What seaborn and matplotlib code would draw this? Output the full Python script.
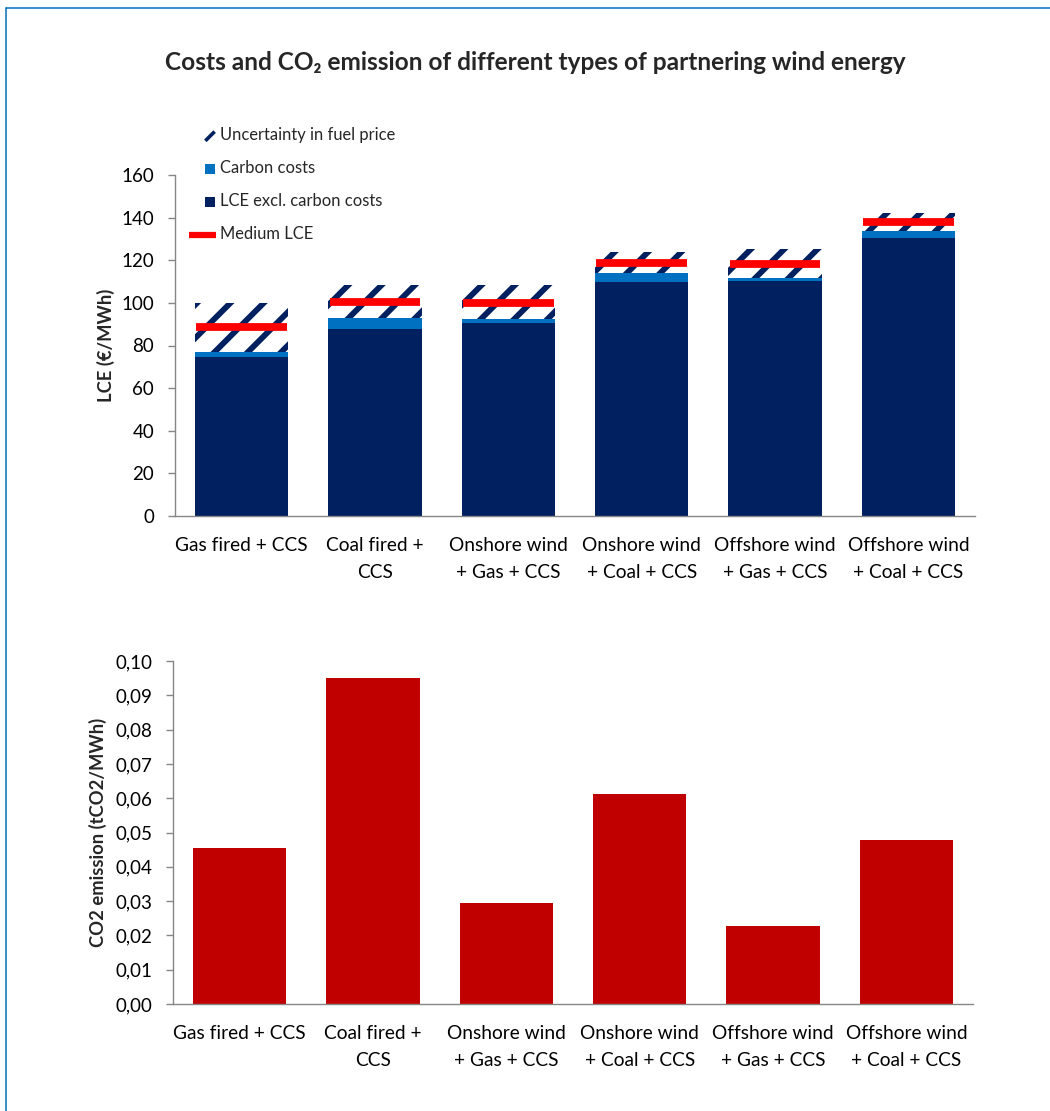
import numpy as np
import pandas as pd
import matplotlib
matplotlib.use("Agg")
import matplotlib.pyplot as plt
import seaborn as sns
from matplotlib.lines import Line2D
from matplotlib.patches import Rectangle, Patch
from matplotlib.legend_handler import HandlerBase
from matplotlib.ticker import FuncFormatter, FixedLocator

# ---------------- data ----------------
categories = ["Gas fired + CCS", "Coal fired +\nCCS", "Onshore wind\n+ Gas + CCS",
              "Onshore wind\n+ Coal + CCS", "Offshore wind\n+ Gas + CCS", "Offshore wind\n+ Coal + CCS"]
lce_excl_carbon = [74.5, 87.6, 90.7, 110.0, 110.3, 130.6]
carbon_costs = [2.6, 5.5, 1.7, 3.9, 1.2, 3.3]
fuel_uncertainty = [22.7, 15.3, 16.0, 10.1, 13.6, 8.1]
medium_lce = [88.8, 100.6, 100.0, 118.9, 118.4, 138.1]
co2_emission = [0.0455, 0.0951, 0.0294, 0.0612, 0.0228, 0.0477]

lce_yticks = [0, 20, 40, 60, 80, 100, 120, 140, 160]
co2_yticks = [0.00, 0.01, 0.02, 0.03, 0.04, 0.05, 0.06, 0.07, 0.08, 0.09, 0.10]

NAVY = "#002060"
LIGHT = "#0070C0"
RED = "#FF0000"
DARKRED = "#C00000"
AXIS = "#868686"

sns.set_style("white")
plt.rcParams["font.family"] = ["Lato", "DejaVu Sans"]
plt.rcParams["hatch.linewidth"] = 4.2

df = pd.DataFrame({
    "cat": categories,
    "lce": lce_excl_carbon,
    "carbon": carbon_costs,
    "unc": fuel_uncertainty,
    "medium": medium_lce,
    "co2": co2_emission,
})
df["carbon_top"] = df["lce"] + df["carbon"]
df["total"] = df["carbon_top"] + df["unc"]

fig = plt.figure(figsize=(10.5, 11.11), dpi=100)
ax1 = fig.add_axes([175 / 1050, 1 - 516 / 1111, 800 / 1050, 341 / 1111])
ax2 = fig.add_axes([173 / 1050, 1 - 1004 / 1111, 800 / 1050, 343 / 1111])

# ---- top chart: stacked via overlay ----
sns.barplot(data=df, x="cat", y="total", ax=ax1, color="white", saturation=1,
            width=0.7, edgecolor=NAVY, linewidth=0, hatch="/", errorbar=None)
sns.barplot(data=df, x="cat", y="carbon_top", ax=ax1, color=LIGHT, saturation=1,
            width=0.7, linewidth=0, errorbar=None)
sns.barplot(data=df, x="cat", y="lce", ax=ax1, color=NAVY, saturation=1,
            width=0.7, linewidth=0, errorbar=None)
xpos = np.arange(len(categories))
ax1.hlines(df["medium"], xpos - 0.34, xpos + 0.34, color=RED, lw=5.6, zorder=5)

# ---- bottom chart ----
sns.barplot(data=df, x="cat", y="co2", ax=ax2, color=DARKRED, saturation=1,
            width=0.7, linewidth=0, errorbar=None)

for ax, yt in ((ax1, lce_yticks), (ax2, co2_yticks)):
    ax.set_xlim(-0.5, len(categories) - 0.5)
    ax.set_ylim(yt[0], yt[-1])
    ax.set_yticks(yt)
    ax.set_xlabel("")
    for s in ("top", "right"):
        ax.spines[s].set_visible(False)
    for s in ("left", "bottom"):
        ax.spines[s].set_color(AXIS)
        ax.spines[s].set_linewidth(1.0)
    ax.xaxis.set_minor_locator(FixedLocator(np.arange(-0.5, len(categories), 1.0)))
    ax.tick_params(axis="x", which="major", length=0, pad=15, labelsize=13.8, colors="black")
    ax.tick_params(axis="x", which="minor", length=5, width=1, color=AXIS, direction="out")
    ax.tick_params(axis="y", which="major", length=5, width=1, color=AXIS, direction="out",
                   labelsize=13.5, labelcolor="black", pad=10, left=True)
    for lab in ax.get_xticklabels():
        lab.set_linespacing(1.7)
        lab.set_verticalalignment("top")

ax2.yaxis.set_major_formatter(FuncFormatter(lambda v, p: f"{v:.2f}".replace(".", ",")))

ax1.set_ylabel("LCE (€/MWh)", fontsize=13.2, fontweight="bold")
ax1.yaxis.set_label_coords(-0.075, 0.5)
ax2.set_ylabel("CO2 emission (tCO2/MWh)", fontsize=13.2, fontweight="bold")
ax2.yaxis.set_label_coords(-0.082, 0.5)

# ---- title ----
fig.text(535 / 1050, 1 - 62 / 1111, "Costs and CO₂ emission of different types of partnering wind energy",
         ha="center", va="center", fontsize=17.6, fontweight="bold",
         family=["Lato", "DejaVu Sans"])


# ---- legend ----
class SquareHandler(HandlerBase):
    def create_artists(self, legend, orig_handle, xdescent, ydescent, width, height, fontsize, trans):
        s = 0.56 * fontsize
        r = Rectangle((width - s - 0.1 * fontsize, height / 2 - s / 2 - 0.12 * fontsize), s, s,
                      facecolor=orig_handle.get_facecolor(), edgecolor="none", transform=trans)
        return [r]


class SlashHandler(HandlerBase):
    def create_artists(self, legend, orig_handle, xdescent, ydescent, width, height, fontsize, trans):
        s = 0.56 * fontsize
        x1 = width - 0.1 * fontsize
        y0 = height / 2 - s / 2 - 0.12 * fontsize
        l = Line2D([x1 - s, x1], [y0, y0 + s], color=NAVY, lw=2.6, solid_capstyle="butt",
                   transform=trans)
        return [l]


class BarLineHandler(HandlerBase):
    def create_artists(self, legend, orig_handle, xdescent, ydescent, width, height, fontsize, trans):
        y = height / 2 - 0.12 * fontsize
        l = Line2D([-xdescent, width], [y, y], color=RED, lw=4.5, solid_capstyle="butt",
                   transform=trans)
        return [l]


h_unc = Patch(facecolor=NAVY, label="Uncertainty in fuel price")
h_car = Patch(facecolor=LIGHT, label="Carbon costs")
h_lce = Patch(facecolor=NAVY, label="LCE excl. carbon costs")
h_med = Line2D([], [], color=RED, lw=4.5, label="Medium LCE")
fig.legend(handles=[h_unc, h_car, h_lce, h_med],
           handler_map={h_unc: SlashHandler(), h_car: SquareHandler(), h_lce: SquareHandler(),
                        h_med: BarLineHandler()},
           loc="upper left", bbox_to_anchor=(189 / 1050, 1 - 127 / 1111),
           frameon=False, fontsize=11.9, handlelength=1.65, handletextpad=0.2,
           labelspacing=1.02, borderpad=0, borderaxespad=0)

# ---- outer border ----
fig.add_artist(Line2D([6 / 1050, 6 / 1050], [0, 1 - 8 / 1111], transform=fig.transFigure,
                      color="#0070C0", lw=1.1))
fig.add_artist(Line2D([6 / 1050, 1], [1 - 8 / 1111, 1 - 8 / 1111], transform=fig.transFigure,
                      color="#0070C0", lw=1.1))

fig.savefig("out.png", dpi=100)
